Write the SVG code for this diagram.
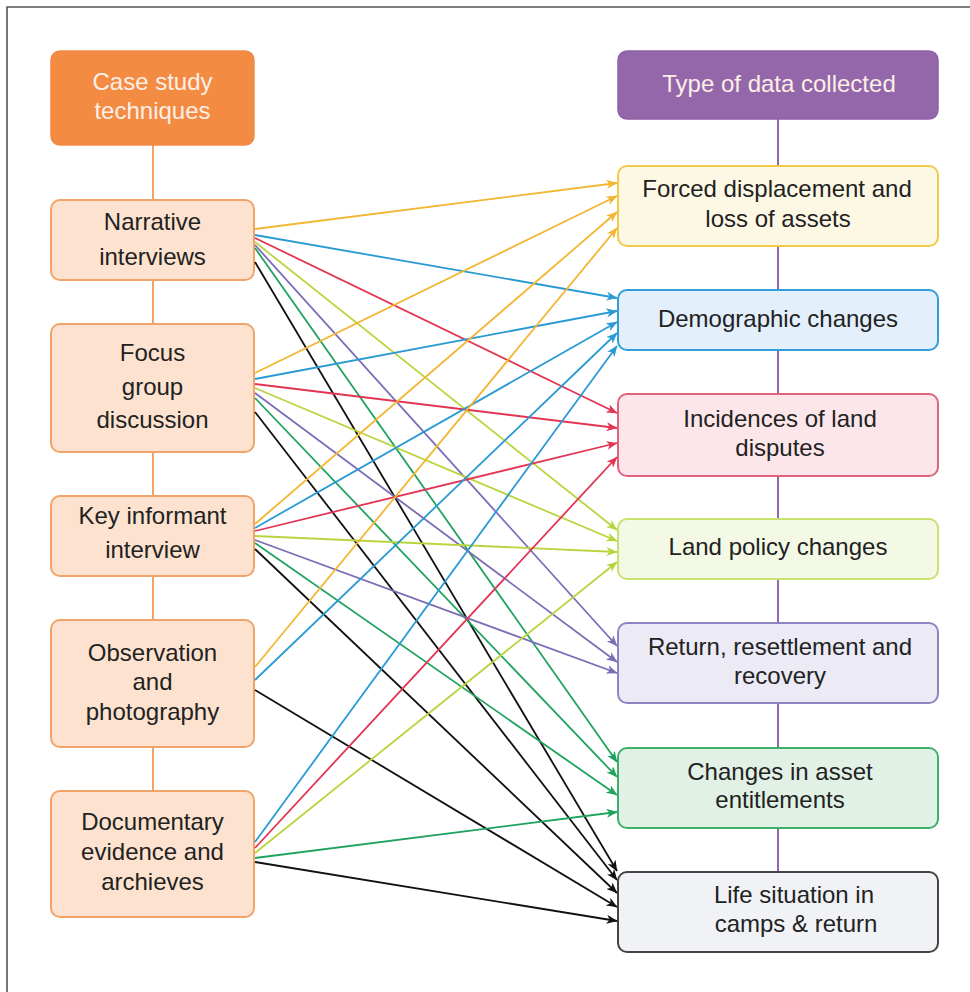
<svg xmlns="http://www.w3.org/2000/svg" width="970" height="992" viewBox="0 0 970 992">
  <style>
    text { font-family: "Liberation Sans", Arial, sans-serif; font-size: 24px; text-anchor: middle; fill: #222; }
    .hdr text { fill: #FCEFE6; }
    .tech rect { fill: #FDE3CF; stroke: #F0A46A; stroke-width: 2; }
    .c { fill: none; stroke-width: 1.8; }
    .y { stroke: #F2B631; } .b { stroke: #2A9AD4; } .r { stroke: #E23553; }
    .l { stroke: #B9D53E; } .p { stroke: #7B6CB6; } .g { stroke: #1FA35E; } .k { stroke: #111; }
  </style>
  <defs>
    <marker id="mY" viewBox="0 0 11 9" markerWidth="11" markerHeight="9" refX="10.5" refY="4.5" orient="auto" markerUnits="userSpaceOnUse"><path d="M0,0 L11,4.5 L0,9 L3,4.5 z" fill="#F2B631"/></marker>
    <marker id="mB" viewBox="0 0 11 9" markerWidth="11" markerHeight="9" refX="10.5" refY="4.5" orient="auto" markerUnits="userSpaceOnUse"><path d="M0,0 L11,4.5 L0,9 L3,4.5 z" fill="#2A9AD4"/></marker>
    <marker id="mR" viewBox="0 0 11 9" markerWidth="11" markerHeight="9" refX="10.5" refY="4.5" orient="auto" markerUnits="userSpaceOnUse"><path d="M0,0 L11,4.5 L0,9 L3,4.5 z" fill="#E23553"/></marker>
    <marker id="mL" viewBox="0 0 11 9" markerWidth="11" markerHeight="9" refX="10.5" refY="4.5" orient="auto" markerUnits="userSpaceOnUse"><path d="M0,0 L11,4.5 L0,9 L3,4.5 z" fill="#B9D53E"/></marker>
    <marker id="mP" viewBox="0 0 11 9" markerWidth="11" markerHeight="9" refX="10.5" refY="4.5" orient="auto" markerUnits="userSpaceOnUse"><path d="M0,0 L11,4.5 L0,9 L3,4.5 z" fill="#7B6CB6"/></marker>
    <marker id="mG" viewBox="0 0 11 9" markerWidth="11" markerHeight="9" refX="10.5" refY="4.5" orient="auto" markerUnits="userSpaceOnUse"><path d="M0,0 L11,4.5 L0,9 L3,4.5 z" fill="#1FA35E"/></marker>
    <marker id="mK" viewBox="0 0 11 9" markerWidth="11" markerHeight="9" refX="10.5" refY="4.5" orient="auto" markerUnits="userSpaceOnUse"><path d="M0,0 L11,4.5 L0,9 L3,4.5 z" fill="#111"/></marker>
  </defs>

  <rect width="970" height="992" fill="#fff"/>
  <!-- frame -->
  <path d="M7,992 V7 H970" fill="none" stroke="#555" stroke-width="1.6"/>

  <!-- column spines -->
  <g id="spines">
    <line x1="153" y1="145" x2="153" y2="791" stroke="#F0A46A" stroke-width="2"/>
    <line x1="778" y1="119" x2="778" y2="872" stroke="#9467AB" stroke-width="2"/>
  </g>

  <!-- left column -->
  <g id="techniques-header" class="hdr">
    <rect x="51" y="51" width="203" height="94" rx="9" fill="#F48B43" stroke="#F08A45" stroke-width="1.5"/>
    <text x="152.5" y="90">Case study</text>
    <text x="152.5" y="119">techniques</text>
  </g>
  <g id="narrative" class="tech">
    <rect x="51" y="200" width="203" height="80" rx="9"/>
    <text x="152.5" y="230">Narrative</text>
    <text x="152.5" y="265">interviews</text>
  </g>
  <g id="focus-group" class="tech">
    <rect x="51" y="324" width="203" height="128" rx="9"/>
    <text x="152.5" y="361">Focus</text>
    <text x="152.5" y="395">group</text>
    <text x="152.5" y="428">discussion</text>
  </g>
  <g id="key-informant" class="tech">
    <rect x="51" y="496" width="203" height="80" rx="9"/>
    <text x="152.5" y="524">Key informant</text>
    <text x="152.5" y="558">interview</text>
  </g>
  <g id="observation" class="tech">
    <rect x="51" y="620" width="203" height="127" rx="9"/>
    <text x="152.5" y="661">Observation</text>
    <text x="152.5" y="690">and</text>
    <text x="152.5" y="720">photography</text>
  </g>
  <g id="documentary" class="tech">
    <rect x="51" y="791" width="203" height="126" rx="9"/>
    <text x="152.5" y="830">Documentary</text>
    <text x="152.5" y="860">evidence and</text>
    <text x="152.5" y="890">archieves</text>
  </g>

  <!-- right column -->
  <g id="data-header" class="hdr">
    <rect x="618" y="51" width="320" height="68" rx="9" fill="#9467AB" stroke="#8E62A6" stroke-width="1.5"/>
    <text x="779" y="92">Type of data collected</text>
  </g>
  <g id="forced-displacement">
    <rect x="618" y="166" width="320" height="80" rx="9" fill="#FDF8E4" stroke="#F2C94C" stroke-width="2"/>
    <text x="777" y="197">Forced displacement and</text>
    <text x="778" y="227">loss of assets</text>
  </g>
  <g id="demographic">
    <rect x="618" y="290" width="320" height="60" rx="9" fill="#E3EFFA" stroke="#2E9FD8" stroke-width="2"/>
    <text x="778" y="327">Demographic changes</text>
  </g>
  <g id="land-disputes">
    <rect x="618" y="394" width="320" height="82" rx="9" fill="#FCE6E9" stroke="#E0637D" stroke-width="2"/>
    <text x="780" y="427">Incidences of land</text>
    <text x="780" y="456">disputes</text>
  </g>
  <g id="land-policy">
    <rect x="618" y="519" width="320" height="60" rx="9" fill="#F3F9E5" stroke="#C8E16F" stroke-width="2"/>
    <text x="778" y="555">Land policy changes</text>
  </g>
  <g id="return">
    <rect x="618" y="623" width="320" height="80" rx="9" fill="#EBEAF5" stroke="#8D84C2" stroke-width="2"/>
    <text x="780" y="655">Return, resettlement and</text>
    <text x="780" y="684">recovery</text>
  </g>
  <g id="asset-entitlements">
    <rect x="618" y="748" width="320" height="80" rx="9" fill="#E1F1E5" stroke="#3DB06B" stroke-width="2"/>
    <text x="780" y="780">Changes in asset</text>
    <text x="780" y="808">entitlements</text>
  </g>
  <g id="life-situation">
    <rect x="618" y="872" width="320" height="80" rx="9" fill="#F1F2F5" stroke="#444" stroke-width="2"/>
    <text x="794" y="903">Life situation in</text>
    <text x="796" y="932">camps &amp; return</text>
  </g>

  <!-- connectors -->
  <g id="connectors">
    <!-- from narrative interviews -->
    <path class="c y" d="M255,229 L617,183" marker-end="url(#mY)"/>
    <path class="c b" d="M255,235 L617,298" marker-end="url(#mB)"/>
    <path class="c r" d="M255,238 L617,413" marker-end="url(#mR)"/>
    <path class="c l" d="M255,242 L617,530" marker-end="url(#mL)"/>
    <path class="c p" d="M255,245 L617,646" marker-end="url(#mP)"/>
    <path class="c g" d="M255,248 L617,762" marker-end="url(#mG)"/>
    <path class="c k" d="M255,262 L617,871" marker-end="url(#mK)"/>
    <!-- from focus group discussion -->
    <path class="c y" d="M255,373 L617,196" marker-end="url(#mY)"/>
    <path class="c b" d="M255,379 L617,311" marker-end="url(#mB)"/>
    <path class="c r" d="M255,384 L617,428" marker-end="url(#mR)"/>
    <path class="c l" d="M255,388 L617,541" marker-end="url(#mL)"/>
    <path class="c p" d="M255,393 L617,662" marker-end="url(#mP)"/>
    <path class="c g" d="M255,398 L617,777" marker-end="url(#mG)"/>
    <path class="c k" d="M255,412 L617,880" marker-end="url(#mK)"/>
    <!-- from key informant interview -->
    <path class="c y" d="M255,524 L617,212" marker-end="url(#mY)"/>
    <path class="c b" d="M255,528 L617,322" marker-end="url(#mB)"/>
    <path class="c r" d="M255,531 L617,443" marker-end="url(#mR)"/>
    <path class="c l" d="M255,536 L617,552" marker-end="url(#mL)"/>
    <path class="c p" d="M255,540 L617,673" marker-end="url(#mP)"/>
    <path class="c g" d="M255,543 L617,795" marker-end="url(#mG)"/>
    <path class="c k" d="M255,549 L617,893" marker-end="url(#mK)"/>
    <!-- from observation and photography -->
    <path class="c y" d="M255,667 L617,228" marker-end="url(#mY)"/>
    <path class="c b" d="M255,680 L617,333" marker-end="url(#mB)"/>
    <path class="c k" d="M255,690 L617,907" stroke-width="1.2" stroke="#333" marker-end="url(#mK)"/>
    <!-- from documentary evidence -->
    <path class="c b" d="M255,842 L617,346" marker-end="url(#mB)"/>
    <path class="c r" d="M255,848 L617,457" marker-end="url(#mR)"/>
    <path class="c l" d="M255,853 L617,562" marker-end="url(#mL)"/>
    <path class="c g" d="M255,858 L617,812" marker-end="url(#mG)"/>
    <path class="c k" d="M255,862 L617,921" marker-end="url(#mK)"/>
  </g>
</svg>
